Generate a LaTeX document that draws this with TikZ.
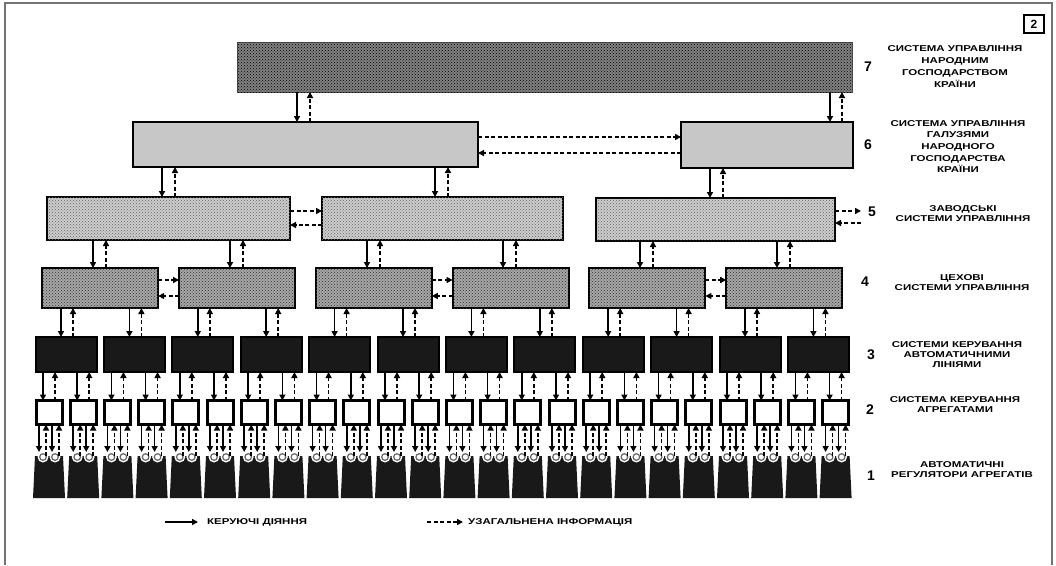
\documentclass[tikz,border=0pt]{standalone}
\usepackage{fontspec}
\setmainfont{Liberation Sans}
\newfontfamily\lblfont[FakeStretch=1.35]{Liberation Sans}
\usetikzlibrary{arrows.meta,patterns}
\newcommand\pairx[4]{%
  \draw[sol] (#1.south -| #3,0) -- (#2.north -| #3,0);
  \draw[das] (#2.north -| #4,0) -- (#1.south -| #4,0);}
\begin{document}
\begin{tikzpicture}[x=1pt,y=-1pt,
  sol/.style={line width=1.5pt,-{Triangle[length=6pt,width=6pt]}},
  das/.style={line width=1.5pt,dash pattern=on 4pt off 2.5pt,-{Triangle[length=6pt,width=6pt]}},
  blk/.style={draw=black,line width=2pt,inner sep=0pt,outer sep=0pt},
  box7/.style={blk,draw=black!70,line width=1pt,fill=black!50,postaction={pattern=crosshatch dots,pattern color=black}},
  box6/.style={blk,fill=black!22},
  box5/.style={blk,fill=black!20,postaction={pattern=crosshatch dots,pattern color=black!60}},
  box4/.style={blk,fill=black!35,postaction={pattern=crosshatch dots,pattern color=black!80},minimum width=116pt,minimum height=40pt},
  box3/.style={blk,fill=black!90,minimum width=61pt,minimum height=35pt},
  box2/.style={blk,line width=3pt,fill=white,minimum width=26pt,minimum height=24pt},
  box1/.style={inner sep=0pt,outer sep=0pt,minimum width=32pt,minimum height=42pt},
  lvl/.style={font=\lblfont\bfseries\fontsize{8.5}{10}\selectfont,align=center,inner sep=0pt},
  lvlA/.style={font=\lblfont\bfseries\fontsize{8.5}{11.7}\selectfont,align=center,inner sep=0pt},
  num/.style={font=\bfseries\fontsize{14}{14}\selectfont,inner sep=0pt},
]
\useasboundingbox (0,0) rectangle (1056,565);
\fill[white] (0,0) rectangle (1056,565);
% frame
\draw[black!55,line width=1.5pt] (5,565) -- (5,3) -- (1052,3) -- (1052,565);
\node[draw,line width=1.5pt,minimum width=20pt,minimum height=18pt,inner sep=0pt,font=\bfseries\fontsize{12}{12}\selectfont] (badge) at (1034,24) {2};

% level 7
\node[box7,minimum width=615pt,minimum height=50pt] (n7) at (544.5,67) {};
% level 6
\node[box6,minimum width=345pt,minimum height=45pt] (n6a) at (305.5,144.5) {};
\node[box6,minimum width=172pt,minimum height=46pt] (n6b) at (767,145) {};
% level 5
\node[box5,minimum width=243pt,minimum height=43pt] (n5a) at (168.5,218.5) {};
\node[box5,minimum width=241pt,minimum height=43pt] (n5b) at (442.5,218.5) {};
\node[box5,minimum width=239pt,minimum height=43pt] (n5c) at (715.5,219.5) {};
% level 4
\foreach \k in {0,...,5} {\node[box4] (n4-\k) at ({100.2+136.8*\k},288) {};}
% level 3
\foreach \i in {0,...,11} {\node[box3] (n3-\i) at ({66+68.4*\i},354.5) {};}
% level 2
\foreach \j in {0,...,23} {\node[box2] (n2-\j) at ({49+34.2*\j},412.5) {};}
% level 1
\foreach \j in {0,...,23} {
  \pgfmathsetmacro\cx{49+34.2*\j}
  \node[box1] (n1-\j) at (\cx,477) {};
  \fill[black!90] (n1-\j.north west) ++(2,0) -- ++(28,0) -- (n1-\j.south east) -- (n1-\j.south west) -- cycle;
  \fill[white] (\cx-6,457) circle (5.5pt) (\cx+6,457) circle (5.5pt);
  \draw[black!60,line width=1.2pt,fill=white] (\cx-6,457) circle (3.3pt) (\cx+6,457) circle (3.3pt);
}

% connectors 7 -> 6
\pairx{n7}{n6a}{297}{310}
\pairx{n7}{n6b}{830}{842}
% 6 -> 5
\pairx{n6a}{n5a}{162}{175}
\pairx{n6a}{n5b}{435}{448}
\pairx{n6b}{n5c}{710}{723}
% 5 -> 4
\pairx{n5a}{n4-0}{93}{106}
\pairx{n5a}{n4-1}{230}{243}
\pairx{n5b}{n4-2}{367}{380}
\pairx{n5b}{n4-3}{503}{516}
\pairx{n5c}{n4-4}{640}{653}
\pairx{n5c}{n4-5}{777}{790}
% 4 -> 3
\foreach \i in {0,...,11} {
  \pgfmathtruncatemacro\k{\i/2}
  \pgfmathsetmacro\xa{66+68.4*\i-5}
  \pgfmathsetmacro\xb{66+68.4*\i+7}
  \pairx{n4-\k}{n3-\i}{\xa}{\xb}
}
% 3 -> 2
\foreach \j in {0,...,23} {
  \pgfmathtruncatemacro\i{\j/2}
  \pgfmathsetmacro\xa{49+34.2*\j-6}
  \pgfmathsetmacro\xb{49+34.2*\j+6}
  \pairx{n3-\i}{n2-\j}{\xa}{\xb}
}
% 2 -> 1
\foreach \j in {0,...,23} {
  \pgfmathsetmacro\xa{49+34.2*\j-10}
  \pgfmathsetmacro\xb{49+34.2*\j-3}
  \pgfmathsetmacro\xc{49+34.2*\j+3}
  \pgfmathsetmacro\xd{49+34.2*\j+10}
  \draw[sol] (n2-\j.south -| \xa,0) -- ([yshift=4pt]n1-\j.north -| \xa,0);
  \draw[das] (n1-\j.north -| \xb,0) -- (n2-\j.south -| \xb,0);
  \draw[sol] (n2-\j.south -| \xc,0) -- ([yshift=4pt]n1-\j.north -| \xc,0);
  \draw[das] (n1-\j.north -| \xd,0) -- (n2-\j.south -| \xd,0);
}

% horizontal dashed links
\draw[das] (n6a.east |- 0,137) -- (n6b.west |- 0,137);
\draw[das] (n6b.west |- 0,153) -- (n6a.east |- 0,153);
\draw[das] (n5a.east |- 0,211) -- (n5b.west |- 0,211);
\draw[das] (n5b.west |- 0,225) -- (n5a.east |- 0,225);
\coordinate (r5) at (861,216);
\draw[das] (n5c.east |- 0,211) -- (r5 |- 0,211);
\draw[das] (r5 |- 0,223) -- (n5c.east |- 0,223);
\foreach \a/\b in {0/1,2/3,4/5} {
  \draw[das] (n4-\a.east |- 0,280) -- (n4-\b.west |- 0,280);
  \draw[das] (n4-\b.west |- 0,296) -- (n4-\a.east |- 0,296);
}

% level numbers
\node[num] (k7) at (868,67) {7};
\node[num] (k6) at (868,145) {6};
\node[num] (k5) at (872,212) {5};
\node[num] (k4) at (865,282) {4};
\node[num] (k3) at (871,355) {3};
\node[num] (k2) at (870,410) {2};
\node[num] (k1) at (871,476) {1};

% level texts
\node[lvlA] (t7) at (955,66.5) {СИСТЕМА УПРАВЛІННЯ\\НАРОДНИМ\\ГОСПОДАРСТВОМ\\КРАЇНИ};
\node[lvlA] (t6) at (958,146.5) {СИСТЕМА УПРАВЛІННЯ\\ГАЛУЗЯМИ\\НАРОДНОГО\\ГОСПОДАРСТВА\\КРАЇНИ};
\node[lvl] (t5) at (963,214) {ЗАВОДСЬКІ\\СИСТЕМИ УПРАВЛІННЯ};
\node[lvl] (t4) at (962,283) {ЦЕХОВІ\\СИСТЕМИ УПРАВЛІННЯ};
\node[lvl] (t3) at (957,355) {СИСТЕМИ КЕРУВАННЯ\\АВТОМАТИЧНИМИ\\ЛІНІЯМИ};
\node[lvl] (t2) at (955,404.5) {СИСТЕМА КЕРУВАННЯ\\АГРЕГАТАМИ};
\node[lvl] (t1) at (962,470) {АВТОМАТИЧНІ\\РЕГУЛЯТОРИ АГРЕГАТІВ};

% legend
\coordinate (la1) at (165,522);
\coordinate (la2) at (198,522);
\draw[sol] (la1) -- (la2);
\node[lvl,anchor=west] (lt1) at (207,522) {КЕРУЮЧІ ДІЯННЯ};
\coordinate (lb1) at (427,522);
\coordinate (lb2) at (463,522);
\draw[das] (lb1) -- (lb2);
\node[lvl,anchor=west] (lt2) at (468,522) {УЗАГАЛЬНЕНА ІНФОРМАЦІЯ};
\end{tikzpicture}
\end{document}
